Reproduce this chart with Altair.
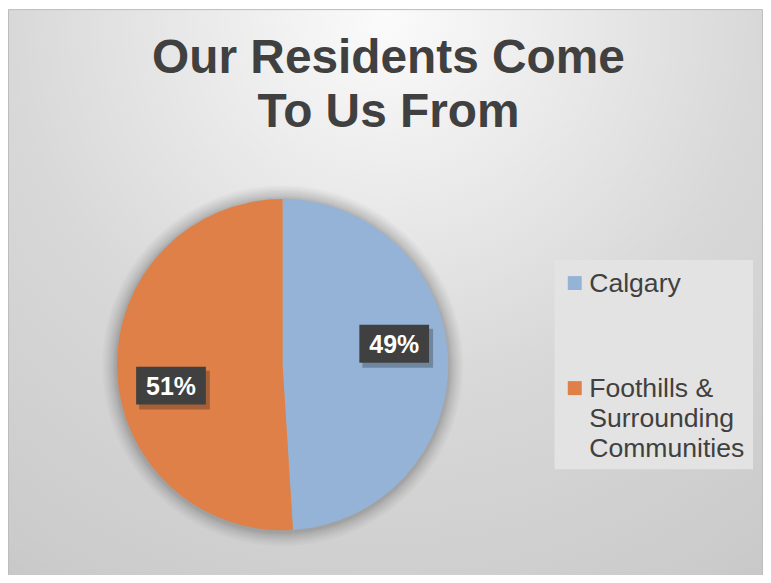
import altair as alt
import pandas as pd

# ---- data ----
CATS = ["Calgary", "Foothills & Surrounding Communities"]
VALUES = [49, 51]
LEGEND_LABELS = ["Calgary", "Foothills &\nSurrounding\nCommunities"]
COLORS = ["#95B3D7", "#DE8048"]
TITLE_LINES = ["Our Residents Come", "To Us From"]

# ---- layout constants ----
W, H = 758, 567
CX, CY, R = 275.7, 357.0, 166.3
R_LABEL = 114.0
THETA_OFF = -0.154
BOX_W, BOX_H = 70, 38
FONT = "Liberation Sans"
TXT = "#404040"

df = pd.DataFrame({"cat": CATS, "value": VALUES, "legend": LEGEND_LABELS,
                   "order": list(range(len(CATS)))})
one = pd.DataFrame({"k": [0]})

base = alt.Chart(df)
color = alt.Color("cat:N", scale=alt.Scale(domain=CATS, range=COLORS), legend=None)
theta = alt.Theta("value:Q", stack=True)
order = alt.Order("order:Q")

bg = alt.Chart(one).mark_rect(
    fill=alt.Gradient(gradient="radial", x1=0.5, y1=0.12, r1=0, x2=0.5, y2=0.12, r2=1.0,
                      stops=[alt.GradientStop(color="#fbfbfb", offset=0),
                             alt.GradientStop(color="#d8d8d8", offset=0.5),
                             alt.GradientStop(color="#cbcbcb", offset=0.85),
                             alt.GradientStop(color="#c2c2c2", offset=1)]),
    stroke="#bcbcbc", strokeWidth=1,
).encode(x=alt.value(0.5), x2=alt.value(W - 0.5), y=alt.value(0.5), y2=alt.value(H + 20))

shadows = [
    base.mark_arc(radius=r, color="black", opacity=0.022).encode(
        theta=theta, order=order, x=alt.value(CX), y=alt.value(CY + 1))
    for r in [181, 179, 177, 175.5, 174, 172.5, 171, 170, 169, 168]
]

pie = base.mark_arc(radius=R).encode(
    theta=theta, color=color, order=order, x=alt.value(CX), y=alt.value(CY))

lab = base.transform_joinaggregate(total="sum(value)").transform_window(
    cum="sum(value)", sort=[alt.SortField("order")], frame=[None, 0]
).transform_calculate(
    mid=f"(datum.cum - datum.value/2)/datum.total*2*PI + ({THETA_OFF})"
).transform_calculate(
    px=f"{CX} + {R_LABEL}*sin(datum.mid)",
    py=f"{CY} - {R_LABEL}*cos(datum.mid)",
    txt="datum.value + '%'",
).transform_calculate(
    bx1=f"datum.px - {BOX_W/2}", bx2=f"datum.px + {BOX_W/2}",
    by1=f"datum.py - {BOX_H/2}", by2=f"datum.py + {BOX_H/2}",
    sx1=f"datum.px - {BOX_W/2} + 3", sx2=f"datum.px + {BOX_W/2} + 4",
    sy1=f"datum.py - {BOX_H/2} + 4", sy2=f"datum.py + {BOX_H/2} + 5",
)

box_shadow = lab.mark_rect(color="black", opacity=0.25).encode(
    x=alt.X("sx1:Q", scale=None, axis=None), x2="sx2:Q",
    y=alt.Y("sy1:Q", scale=None, axis=None), y2="sy2:Q")
box = lab.mark_rect(color="#404040").encode(
    x=alt.X("bx1:Q", scale=None, axis=None), x2="bx2:Q",
    y=alt.Y("by1:Q", scale=None, axis=None), y2="by2:Q")
pct = lab.mark_text(font=FONT, fontSize=25, fontWeight="bold", color="white",
                    align="center", baseline="middle", dy=1).encode(
    x=alt.X("px:Q", scale=None, axis=None), y=alt.Y("py:Q", scale=None, axis=None),
    text="txt:N")

title = alt.Chart(one).mark_text(
    text=TITLE_LINES, font=FONT, fontSize=48, fontWeight="bold", color=TXT,
    align="center", baseline="alphabetic", lineHeight=54.5,
).encode(x=alt.value(382), y=alt.value(64))

leg_box = alt.Chart(one).mark_rect(color="#e3e3e3").encode(
    x=alt.value(548.7), x2=alt.value(748), y=alt.value(252), y2=alt.value(462))

leg_y = alt.Y("cat:N", scale=alt.Scale(type="point", domain=CATS, range=[275, 380.5], padding=0),
              axis=None)
leg_sym = base.mark_square(size=196, opacity=1).encode(
    x=alt.value(569), y=leg_y, color=color)
leg_txt = base.mark_text(font=FONT, fontSize=26.7, color=TXT, align="left",
                         baseline="alphabetic", dy=8.5, lineHeight=30.5, lineBreak="\n").encode(
    x=alt.value(583.5), y=leg_y, text="legend:N")

chart = alt.layer(
    bg, *shadows, pie, box_shadow, box, pct, title, leg_box, leg_sym, leg_txt
).resolve_scale(x="independent", y="independent").properties(
    width=W, height=H, autosize="none", padding=0
).configure_view(stroke=None)

chart.save("out.html", embed_options={"renderer": "svg", "actions": False})
